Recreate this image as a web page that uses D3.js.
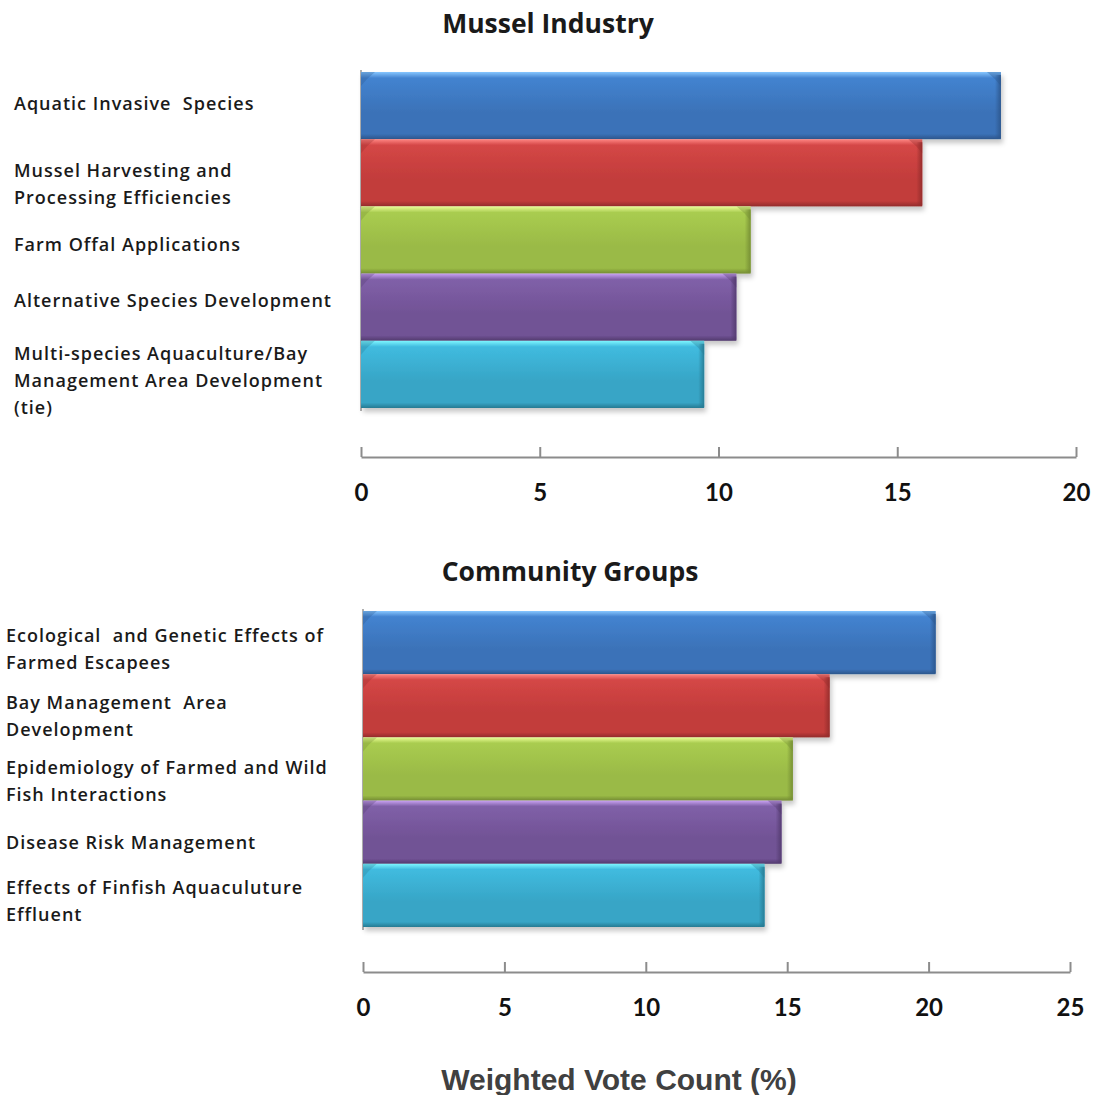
<!DOCTYPE html>
<html>
<head>
<meta charset="utf-8">
<script src="https://cdn.jsdelivr.net/npm/d3@7"></script>
<style>
  html, body { margin: 0; padding: 0; background: #fff; }
  svg { display: block; }
</style>
</head>
<body>
<svg id="chart" width="1094" height="1095"></svg>
<script>
// ---------- DATA ----------
const musselTitle = "Mussel Industry";
const musselLabels = [
  ["Aquatic Invasive  Species"],
  ["Mussel Harvesting and", "Processing Efficiencies"],
  ["Farm Offal Applications"],
  ["Alternative Species Development"],
  ["Multi-species Aquaculture/Bay", "Management Area Development", "(tie)"]
];
const musselValues = [17.9, 15.7, 10.9, 10.5, 9.6];
const musselTicks = [0, 5, 10, 15, 20];

const communityTitle = "Community Groups";
const communityLabels = [
  ["Ecological  and Genetic Effects of", "Farmed Escapees"],
  ["Bay Management  Area", "Development"],
  ["Epidemiology of Farmed and Wild", "Fish Interactions"],
  ["Disease Risk Management"],
  ["Effects of Finfish Aquaculuture", "Effluent"]
];
const communityValues = [20.25, 16.5, 15.2, 14.8, 14.2];
const communityTicks = [0, 5, 10, 15, 20, 25];

const xAxisTitle = "Weighted Vote Count (%)";

// bar palette: [highlight, top, mid, bottom]
const palette = [
  ["#86c6ff", "#4383d0", "#3b72b8", "#2c568c"],
  ["#ff8683", "#d44746", "#c23c3b", "#922c2b"],
  ["#ecff96", "#a9cc50", "#9aba46", "#748c33"],
  ["#c9a2f2", "#8060a8", "#715295", "#523a6e"],
  ["#7ef6ff", "#40bbdf", "#37a5c6", "#277a92"]
];

// ---------- DRAW ----------
const svg = d3.select("#chart");
const defs = svg.append("defs");

const shadow = defs.append("filter").attr("id", "shadow")
  .attr("x", "-5%").attr("y", "-20%").attr("width", "115%").attr("height", "150%");
shadow.append("feDropShadow").attr("dx", 2).attr("dy", 4).attr("stdDeviation", 2.5)
  .attr("flood-color", "#000").attr("flood-opacity", 0.22);

palette.forEach((c, i) => {
  const g = defs.append("linearGradient").attr("id", "grad" + i)
    .attr("x1", 0).attr("y1", 0).attr("x2", 0).attr("y2", 1);
  g.append("stop").attr("offset", "0%").attr("stop-color", c[0]);
  g.append("stop").attr("offset", "9%").attr("stop-color", c[1]);
  g.append("stop").attr("offset", "60%").attr("stop-color", c[2]);
  g.append("stop").attr("offset", "92%").attr("stop-color", c[2]);
  g.append("stop").attr("offset", "100%").attr("stop-color", c[3]);
  const s = defs.append("linearGradient").attr("id", "side" + i)
    .attr("x1", 0).attr("y1", 0).attr("x2", 1).attr("y2", 0);
  s.append("stop").attr("offset", "0%").attr("stop-color", c[3]).attr("stop-opacity", 0);
  s.append("stop").attr("offset", "100%").attr("stop-color", c[3]).attr("stop-opacity", 0.9);
});

const labelFont = "'Open Sans', Lato, sans-serif";
const tickFont = "Lato, 'Open Sans', sans-serif";

function drawChart(cfg) {
  const x = d3.scaleLinear().domain([0, cfg.max]).range([cfg.x0, cfg.x1]);
  const y = d3.scaleBand().domain(d3.range(cfg.values.length))
    .range([cfg.y0, cfg.y1]).paddingInner(0).paddingOuter(0);

  const g = svg.append("g");

  // title
  g.append("text")
    .attr("x", cfg.titleX).attr("y", cfg.titleY)
    .attr("text-anchor", "middle").attr("dominant-baseline", "middle")
    .style("font-family", labelFont).style("font-weight", 700)
    .style("font-size", "26.5px").style("fill", "#1a1a1a")
    .text(cfg.title);

  // left edge line
  g.append("line")
    .attr("x1", x(0)).attr("x2", x(0))
    .attr("y1", cfg.y0 - 2).attr("y2", cfg.y1 + 3)
    .attr("stroke", "#b0b0b0").attr("stroke-width", 2);

  // bars
  const bars = g.selectAll("g.bar").data(cfg.values).join("g").attr("class", "bar");
  bars.append("rect")
    .attr("x", x(0)).attr("y", (d, i) => y(i))
    .attr("width", d => x(d) - x(0)).attr("height", y.bandwidth())
    .attr("fill", (d, i) => `url(#grad${i})`)
    .attr("filter", "url(#shadow)");
  // right edge bevel
  bars.append("rect")
    .attr("x", d => x(d) - 6).attr("y", (d, i) => y(i) + 3)
    .attr("width", 6).attr("height", y.bandwidth() - 4)
    .attr("fill", (d, i) => `url(#side${i})`);
  // top-right bevel triangle
  bars.append("path")
    .attr("d", (d, i) => {
      const r = x(d), t = y(i);
      return `M${r - 14},${t} L${r},${t} L${r},${t + 14} L${r - 6},${t + 7} Z`;
    })
    .attr("fill", (d, i) => palette[i][3]).attr("opacity", 0.35);
  // top-left bevel triangle
  bars.append("path")
    .attr("d", (d, i) => {
      const l = x(0), t = y(i);
      return `M${l},${t} L${l + 14},${t} L${l + 6},${t + 7} L${l},${t + 14} Z`;
    })
    .attr("fill", (d, i) => palette[i][3]).attr("opacity", 0.3);

  // category labels
  const lh = 27;
  cfg.labels.forEach((lines, i) => {
    const cy = y(i) + y.bandwidth() / 2 + cfg.labelShift[i];
    const t = g.append("text")
      .attr("x", cfg.labelX)
      .style("font-family", labelFont).style("font-weight", 600)
      .style("font-size", "18px").style("letter-spacing", "1px")
      .style("fill", "#1a1a1a");
    lines.forEach((ln, j) => {
      t.append("tspan")
        .attr("x", cfg.labelX)
        .attr("y", cy + (j - (lines.length - 1) / 2) * lh)
        .attr("dominant-baseline", "middle")
        .style("white-space", "pre")
        .text(ln);
    });
  });

  // x axis
  const axis = d3.axisBottom(x).tickValues(cfg.ticks).tickSize(0).tickFormat(d3.format("d"));
  const ag = g.append("g").attr("transform", `translate(0,${cfg.axisY})`).call(axis);
  ag.select(".domain").attr("stroke", "#8c8c8c").attr("stroke-width", 2);
  ag.selectAll(".tick line").remove();
  ag.selectAll(".tick").append("line")
    .attr("y1", 0).attr("y2", -10)
    .attr("stroke", "#8c8c8c").attr("stroke-width", 2);
  ag.selectAll(".tick text")
    .attr("y", 38).attr("dy", null)
    .attr("dominant-baseline", "middle")
    .style("font-family", tickFont).style("font-weight", 700)
    .style("font-size", "24px").style("fill", "#111");
}

drawChart({
  title: musselTitle, titleX: 548, titleY: 26,
  labels: musselLabels, values: musselValues, ticks: musselTicks, max: 20,
  x0: 361, x1: 1076, y0: 72, y1: 408, axisY: 457,
  labelX: 14, labelShift: [0, 13, 6, -5, 8]
});

drawChart({
  title: communityTitle, titleX: 570, titleY: 574,
  labels: communityLabels, values: communityValues, ticks: communityTicks, max: 25,
  x0: 363, x1: 1070, y0: 611, y1: 927, axisY: 972,
  labelX: 6, labelShift: [8, 12, 14, 12, 7]
});

svg.append("text")
  .attr("x", 619).attr("y", 1082)
  .attr("text-anchor", "middle").attr("dominant-baseline", "middle")
  .style("font-family", "'Liberation Sans', Arial, sans-serif")
  .style("font-weight", 700).style("font-size", "30px").style("fill", "#404040")
  .text(xAxisTitle);
</script>
</body>
</html>
